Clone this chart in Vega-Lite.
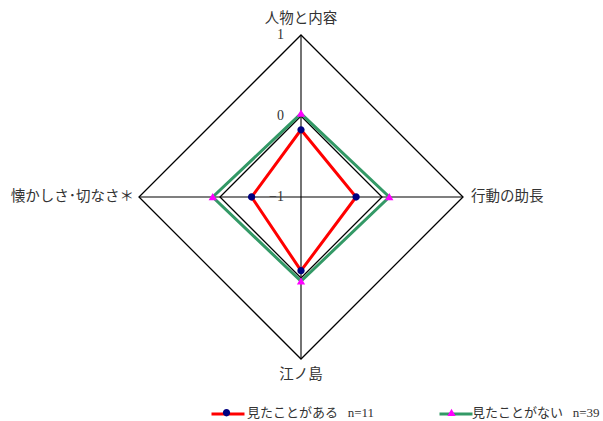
{
  "$schema": "https://vega.github.io/schema/vega-lite/v6.json",
  "width": 324,
  "height": 324,
  "autosize": {"type": "none"},
  "padding": {"left": 139, "top": 35, "right": 140, "bottom": 62},
  "background": "white",
  "config": {"view": {"stroke": null}},
  "datasets": {
    "spokes": [
      {"axis": "人物と内容", "idx": 0},
      {"axis": "行動の助長", "idx": 1},
      {"axis": "江ノ島", "idx": 2},
      {"axis": "懐かしさ･切なさ＊", "idx": 3}
    ],
    "rings": [
      {"ring": 1, "idx": 0}, {"ring": 1, "idx": 1}, {"ring": 1, "idx": 2}, {"ring": 1, "idx": 3},
      {"ring": 0, "idx": 0}, {"ring": 0, "idx": 1}, {"ring": 0, "idx": 2}, {"ring": 0, "idx": 3}
    ],
    "tickvals": [{"tick": 1}, {"tick": 0}, {"tick": -1}],
    "scores": [
      {"series": "見たことがある\u00a0\u00a0\u00a0n=11", "axis": "人物と内容", "idx": 0, "score": -0.17},
      {"series": "見たことがある\u00a0\u00a0\u00a0n=11", "axis": "行動の助長", "idx": 1, "score": -0.32},
      {"series": "見たことがある\u00a0\u00a0\u00a0n=11", "axis": "江ノ島", "idx": 2, "score": -0.09},
      {"series": "見たことがある\u00a0\u00a0\u00a0n=11", "axis": "懐かしさ･切なさ＊", "idx": 3, "score": -0.39},
      {"series": "見たことがない\u00a0\u00a0\u00a0n=39", "axis": "人物と内容", "idx": 0, "score": 0.03},
      {"series": "見たことがない\u00a0\u00a0\u00a0n=39", "axis": "行動の助長", "idx": 1, "score": 0.09},
      {"series": "見たことがない\u00a0\u00a0\u00a0n=39", "axis": "江ノ島", "idx": 2, "score": 0.04},
      {"series": "見たことがない\u00a0\u00a0\u00a0n=39", "axis": "懐かしさ･切なさ＊", "idx": 3, "score": 0.09}
    ]
  },
  "layer": [
    {
      "data": {"name": "rings"},
      "transform": [
        {"calculate": "(datum.ring+1)*sin(datum.idx*PI/2)", "as": "px"},
        {"calculate": "(datum.ring+1)*cos(datum.idx*PI/2)", "as": "py"}
      ],
      "mark": {"type": "line", "interpolate": "linear-closed", "color": "black", "strokeWidth": 1.3},
      "encoding": {
        "x": {"field": "px", "type": "quantitative", "scale": {"domain": [-2, 2], "nice": false, "zero": false}, "axis": null},
        "y": {"field": "py", "type": "quantitative", "scale": {"domain": [-2, 2], "nice": false, "zero": false}, "axis": null},
        "detail": {"field": "ring", "type": "nominal"},
        "order": {"field": "idx", "type": "quantitative"}
      }
    },
    {
      "data": {"name": "spokes"},
      "transform": [
        {"calculate": "2*sin(datum.idx*PI/2)", "as": "px"},
        {"calculate": "2*cos(datum.idx*PI/2)", "as": "py"},
        {"calculate": "0", "as": "zero"}
      ],
      "mark": {"type": "rule", "color": "black", "strokeWidth": 1.1},
      "encoding": {
        "x": {"field": "px", "type": "quantitative", "axis": null},
        "y": {"field": "py", "type": "quantitative", "axis": null},
        "x2": {"field": "zero"},
        "y2": {"field": "zero"}
      }
    },
    {
      "data": {"name": "tickvals"},
      "transform": [{"calculate": "datum.tick+1", "as": "py"}, {"calculate": "0", "as": "px"}],
      "mark": {"type": "text", "align": "right", "baseline": "middle", "dx": -17, "font": "Liberation Serif", "fontSize": 14, "color": "#333"},
      "encoding": {
        "x": {"field": "px", "type": "quantitative", "axis": null},
        "y": {"field": "py", "type": "quantitative", "axis": null},
        "text": {"field": "tick", "type": "quantitative", "format": "d"}
      }
    },
    {
      "data": {"name": "spokes"},
      "transform": [
        {"filter": "datum.idx == 0 || datum.idx == 2"},
        {"calculate": "2.2*cos(datum.idx*PI/2)", "as": "py"},
        {"calculate": "0", "as": "px"}
      ],
      "mark": {"type": "text", "align": "center", "baseline": "middle", "font": "Noto Sans CJK JP", "fontSize": 14.5, "color": "#333"},
      "encoding": {
        "x": {"field": "px", "type": "quantitative", "axis": null},
        "y": {"field": "py", "type": "quantitative", "axis": null},
        "text": {"field": "axis", "type": "nominal"}
      }
    },
    {
      "data": {"name": "spokes"},
      "transform": [
        {"filter": "datum.idx == 1"},
        {"calculate": "2", "as": "px"},
        {"calculate": "0", "as": "py"}
      ],
      "mark": {"type": "text", "align": "left", "baseline": "middle", "dx": 8, "font": "Noto Sans CJK JP", "fontSize": 14.5, "color": "#333"},
      "encoding": {
        "x": {"field": "px", "type": "quantitative", "axis": null},
        "y": {"field": "py", "type": "quantitative", "axis": null},
        "text": {"field": "axis", "type": "nominal"}
      }
    },
    {
      "data": {"name": "spokes"},
      "transform": [
        {"filter": "datum.idx == 3"},
        {"calculate": "-2", "as": "px"},
        {"calculate": "0", "as": "py"}
      ],
      "mark": {"type": "text", "align": "right", "baseline": "middle", "dx": -5, "font": "Noto Sans CJK JP", "fontSize": 14.5, "color": "#333"},
      "encoding": {
        "x": {"field": "px", "type": "quantitative", "axis": null},
        "y": {"field": "py", "type": "quantitative", "axis": null},
        "text": {"field": "axis", "type": "nominal"}
      }
    },
    {
      "data": {"name": "scores"},
      "transform": [
        {"calculate": "(datum.score+1)*sin(datum.idx*PI/2)", "as": "px"},
        {"calculate": "(datum.score+1)*cos(datum.idx*PI/2)", "as": "py"}
      ],
      "mark": {"type": "line", "interpolate": "linear-closed", "strokeWidth": 3},
      "encoding": {
        "x": {"field": "px", "type": "quantitative", "axis": null},
        "y": {"field": "py", "type": "quantitative", "axis": null},
        "order": {"field": "idx", "type": "quantitative"},
        "stroke": {
          "field": "series", "type": "nominal",
          "scale": {"domain": ["見たことがある\u00a0\u00a0\u00a0n=11", "見たことがない\u00a0\u00a0\u00a0n=39"], "range": ["#FF0000", "#339966"]},
          "legend": {
            "title": null, "orient": "none", "legendX": 71, "legendY": 361, "direction": "horizontal",
            "symbolType": "stroke", "symbolSize": 1089, "symbolStrokeWidth": 3,
            "labelExpr": "''",
            "labelFont": "Liberation Serif, Noto Sans CJK JP", "labelFontSize": 13,
            "labelOffset": 4, "columnPadding": 182, "padding": 0
          }
        }
      }
    },
    {
      "data": {"name": "scores"},
      "transform": [
        {"calculate": "(datum.score+1)*sin(datum.idx*PI/2)", "as": "px"},
        {"calculate": "(datum.score+1)*cos(datum.idx*PI/2)", "as": "py"}
      ],
      "mark": {"type": "point", "filled": true, "opacity": 1, "size": 1089, "strokeWidth": 0},
      "encoding": {
        "x": {"field": "px", "type": "quantitative", "axis": null},
        "y": {"field": "py", "type": "quantitative", "axis": null},
        "fill": {
          "field": "series", "type": "nominal",
          "scale": {"range": ["#000080", "#FF00FF"]},
          "legend": {
            "title": null, "orient": "none", "legendX": 71, "legendY": 361, "direction": "horizontal",
            "symbolSize": 1089, "symbolStrokeWidth": 0,
            "labelColor": "#333",
            "labelFont": "Liberation Serif, Noto Sans CJK JP", "labelFontSize": 13,
            "labelOffset": 4, "columnPadding": 60, "padding": 0
          }
        },
        "shape": {
          "field": "series", "type": "nominal",
          "scale": {"range": ["M0.22,0A0.22,0.22 0 1,1 -0.22,0A0.22,0.22 0 1,1 0.22,0Z", "M0,-0.24L0.25,0.2L-0.25,0.2Z"]}
        }
      }
    }
  ]
}
